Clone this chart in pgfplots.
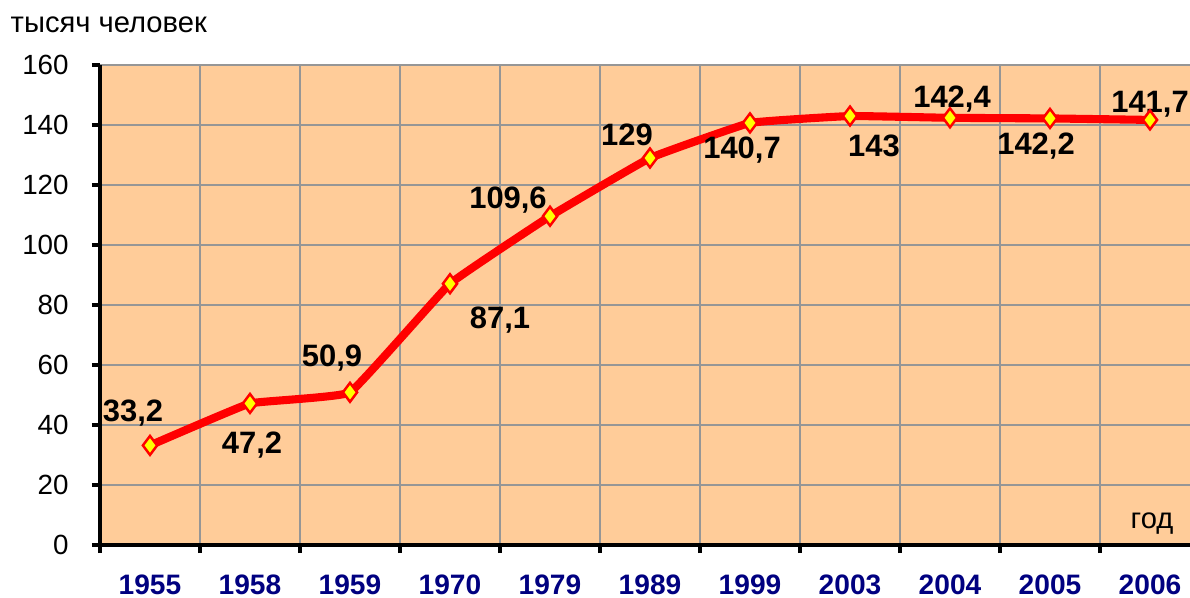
\documentclass[border=0pt]{standalone}
\usepackage{fontspec}
\setmainfont{Liberation Sans}
\usepackage{pgfplots}
\pgfplotsset{compat=1.18}
\definecolor{peach}{RGB}{255,204,153}
\definecolor{gridgray}{RGB}{150,150,150}
\definecolor{navy}{RGB}{0,0,128}
\definecolor{lred}{RGB}{255,0,0}
\definecolor{myellow}{RGB}{255,255,0}

\begin{document}
\begin{tikzpicture}
\begin{axis}[
  name=ax, at={(0,0)}, anchor=south west,
  x=1cm, y=0.03cm,
  xmin=-0.5, xmax=10.4, ymin=0, ymax=160,
  axis x line*=bottom, axis y line*=left,
  axis line style={line width=0.9pt, black},
  axis background/.style={fill=peach},
  xtick={-0.5,0.5,1.5,2.5,3.5,4.5,5.5,6.5,7.5,8.5,9.5},
  xticklabels={},
  extra x ticks={0,1,2,3,4,5,6,7,8,9,10},
  extra x tick labels={1955,1958,1959,1970,1979,1989,1999,2003,2004,2005,2006},
  extra x tick style={grid=none, major tick length=0pt},
  xticklabel style={font=\bfseries\fontsize{8}{9.6}\selectfont, text=navy, yshift=-1.7mm},
  ytick={0,20,...,160},
  yticklabel style={font=\fontsize{7.9}{9.5}\selectfont, xshift=-1.1mm},
  /pgf/number format/assume math mode=true,
  tick align=outside,
  major tick length=0.8mm,
  tick style={line width=0.9pt, black},
  grid=major,
  major grid style={line width=0.7pt, gridgray},
  clip=false,
]
\addplot[color=lred, line width=2.3pt, smooth, tension=0.15,
  mark=diamond*, mark size=2.7pt,
  mark options={fill=myellow, draw=lred, line width=0.7pt, solid}]
  coordinates {(0,33.2)(1,47.2)(2,50.9)(3,87.1)(4,109.6)(5,129)(6,140.7)(7,143)(8,142.4)(9,142.2)(10,141.7)};

\begin{scope}[every node/.style={font=\bfseries\fontsize{8.8}{10.5}\selectfont, inner sep=0pt, anchor=center}]
\node at (axis cs:-0.17,44) {33,2};
\node at (axis cs:1.02,33.3) {47,2};
\node at (axis cs:1.82,62.3) {50,9};
\node at (axis cs:3.5,75) {87,1};
\node at (axis cs:3.58,115) {109,6};
\node at (axis cs:4.77,136.7) {129};
\node at (axis cs:5.92,131.7) {140,7};
\node at (axis cs:7.24,133) {143};
\node at (axis cs:8.02,148.7) {142,4};
\node at (axis cs:8.86,133) {142,2};
\node at (axis cs:10.0,147) {141,7};
\end{scope}
\end{axis}
\node[anchor=west, inner sep=0pt, font=\fontsize{8.3}{10}\selectfont] at (-0.9,5.2) {тысяч человек};
\node[anchor=center, inner sep=0pt, font=\fontsize{8.3}{10}\selectfont] at (10.52,0.21) {год};
\pgfresetboundingbox
\path[use as bounding box] (-1.0,-0.52) rectangle (10.9,5.45);
\end{tikzpicture}
\end{document}
